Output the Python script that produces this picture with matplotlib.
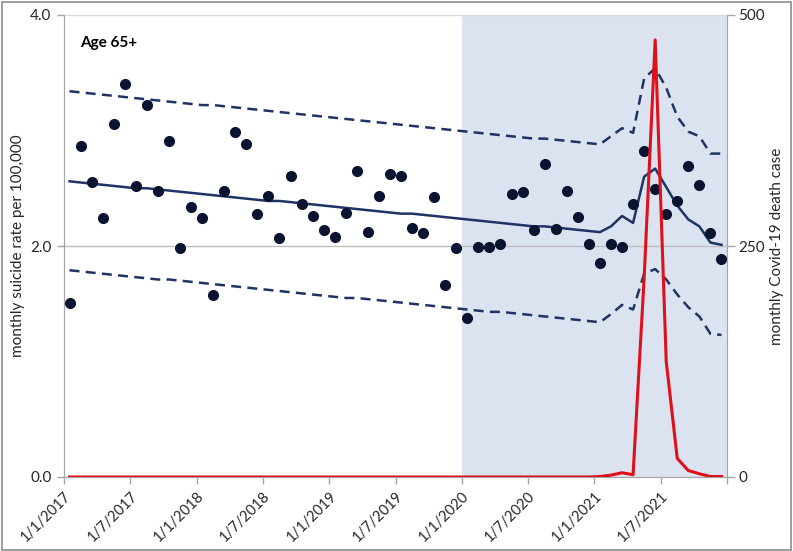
import matplotlib
matplotlib.use("Agg")
import matplotlib.pyplot as plt
from matplotlib.patches import Rectangle

# ---- data (monthly, Jan 2017 .. Dec 2021) ----
suicide_rate = [1.51, 2.87, 2.55, 2.24, 3.06, 3.40, 2.52, 3.22, 2.48, 2.91,
                1.98, 2.34, 2.24, 1.58, 2.48, 2.99, 2.88, 2.28, 2.43, 2.07,
                2.61, 2.36, 2.26, 2.14, 2.08, 2.29, 2.65, 2.12, 2.43, 2.62,
                2.61, 2.16, 2.11, 2.42, 1.66, 1.98, 1.38, 1.99, 1.99, 2.02,
                2.45, 2.47, 2.14, 2.71, 2.15, 2.48, 2.25, 2.02, 1.85, 2.02,
                1.99, 2.36, 2.82, 2.49, 2.28, 2.39, 2.69, 2.53, 2.11, 1.89]

expected = [2.56, 2.55, 2.54, 2.53, 2.52, 2.51, 2.50, 2.50, 2.49, 2.48,
            2.47, 2.46, 2.45, 2.44, 2.43, 2.42, 2.41, 2.40, 2.39, 2.39,
            2.38, 2.37, 2.36, 2.35, 2.34, 2.33, 2.32, 2.31, 2.30, 2.29,
            2.28, 2.28, 2.27, 2.26, 2.25, 2.24, 2.23, 2.22, 2.21, 2.20,
            2.19, 2.18, 2.17, 2.17, 2.16, 2.15, 2.14, 2.13, 2.12, 2.17,
            2.26, 2.20, 2.60, 2.67, 2.51, 2.35, 2.23, 2.17, 2.03, 2.01]

upper = [3.34, 3.33, 3.32, 3.31, 3.30, 3.29, 3.28, 3.27, 3.26, 3.25,
         3.24, 3.23, 3.22, 3.22, 3.21, 3.20, 3.19, 3.18, 3.17, 3.16,
         3.15, 3.14, 3.13, 3.12, 3.11, 3.10, 3.09, 3.08, 3.07, 3.06,
         3.05, 3.04, 3.03, 3.02, 3.01, 3.00, 2.99, 2.98, 2.97, 2.96,
         2.95, 2.94, 2.93, 2.93, 2.92, 2.91, 2.90, 2.89, 2.88, 2.95,
         3.02, 2.98, 3.45, 3.54, 3.37, 3.12, 2.99, 2.95, 2.80, 2.80]

lower = [1.79, 1.78, 1.77, 1.76, 1.75, 1.74, 1.73, 1.72, 1.71, 1.71,
         1.70, 1.69, 1.68, 1.67, 1.66, 1.65, 1.64, 1.63, 1.62, 1.61,
         1.60, 1.59, 1.58, 1.57, 1.56, 1.55, 1.55, 1.54, 1.53, 1.52,
         1.51, 1.50, 1.49, 1.48, 1.47, 1.46, 1.45, 1.44, 1.43, 1.43,
         1.42, 1.41, 1.40, 1.39, 1.38, 1.37, 1.36, 1.35, 1.34, 1.41,
         1.49, 1.45, 1.76, 1.80, 1.71, 1.58, 1.47, 1.39, 1.24, 1.23]

covid_deaths = [0] * 48 + [0.5, 2, 4.6, 2.5, 215, 473, 125, 20, 7, 3.5, 0.5, 0.5]

tick_labels = ["1/1/2017", "1/7/2017", "1/1/2018", "1/7/2018", "1/1/2019",
               "1/7/2019", "1/1/2020", "1/7/2020", "1/1/2021", "1/7/2021", ""]

months = [i + 0.5 for i in range(len(suicide_rate))]

FONT = "Lato"
NAVY = "#1f3364"
DOT = "#0a1430"
GRAY = "#a6a6a6"
TXT = "#262626"

fig = plt.figure(figsize=(7.93, 5.51), dpi=100)
ax = fig.add_axes([64 / 793, 1 - 477 / 551, (727 - 64) / 793, (477 - 15) / 551])

ax.axvspan(36, 60, color="#dbe3f0", zorder=0, lw=0)
ax.axhline(2.0, color="#bfbfbf", lw=1, zorder=0.5)
ax.axhline(4.0, color="#d9d9d9", lw=1, zorder=0.5)

ax.plot(months, upper, color=NAVY, lw=1.8, ls=(0, (4, 2.5)), zorder=2)
ax.plot(months, lower, color=NAVY, lw=1.8, ls=(0, (4, 2.5)), zorder=2)
ax.plot(months, expected, color=NAVY, lw=1.8, zorder=2)
ax.plot(months, suicide_rate, ls="none", marker="o", ms=7, color=DOT, zorder=3)

ax.set_xlim(0, 60)
ax.set_ylim(0, 4.0)
ax.set_yticks([0, 2.0, 4.0])
ax.set_yticklabels(["0.0", "2.0", "4.0"], fontfamily=FONT, fontsize=11, color=TXT)
ax.set_xticks(list(range(0, 61, 6)))
ax.set_xticklabels(tick_labels, rotation=45, ha="right", rotation_mode="anchor",
                   fontfamily=FONT, fontsize=10.5, color=TXT)
ax.tick_params(axis="both", length=5, width=1, color=GRAY, pad=4)
ax.set_ylabel("monthly suicide rate per 100,000", fontfamily=FONT, fontsize=11,
              color=TXT)
ax.yaxis.set_label_coords(-0.059, 0.5)
for s in ["left", "bottom", "right"]:
    ax.spines[s].set_color(GRAY)
ax.spines["top"].set_visible(False)
ax.text(0.025, 0.955, "Age 65+", transform=ax.transAxes, fontfamily=FONT,
        fontsize=11, fontweight="bold", color="black", va="top")

ax2 = ax.twinx()
ax2.plot(months, covid_deaths, color="#e0101a", lw=2.2, zorder=4)
ax2.set_ylim(0, 500)
ax2.set_yticks([0, 250, 500])
ax2.set_yticklabels(["0", "250", "500"], fontfamily=FONT, fontsize=11, color=TXT)
ax2.tick_params(axis="y", length=6, width=1, color=GRAY, pad=2)
ax2.set_ylabel("monthly Covid-19 death case", fontfamily=FONT, fontsize=11,
               color=TXT, rotation=90)
ax2.yaxis.set_label_coords(1.0655, 0.5)
for s in ["left", "bottom", "right"]:
    ax2.spines[s].set_color(GRAY)
ax2.spines["top"].set_visible(False)

fig.patches.append(Rectangle((0.002, 0.002), 0.996, 0.995, transform=fig.transFigure,
                             fill=False, edgecolor="#8c8c8c", lw=1.2))

fig.savefig("out.png", dpi=100)
